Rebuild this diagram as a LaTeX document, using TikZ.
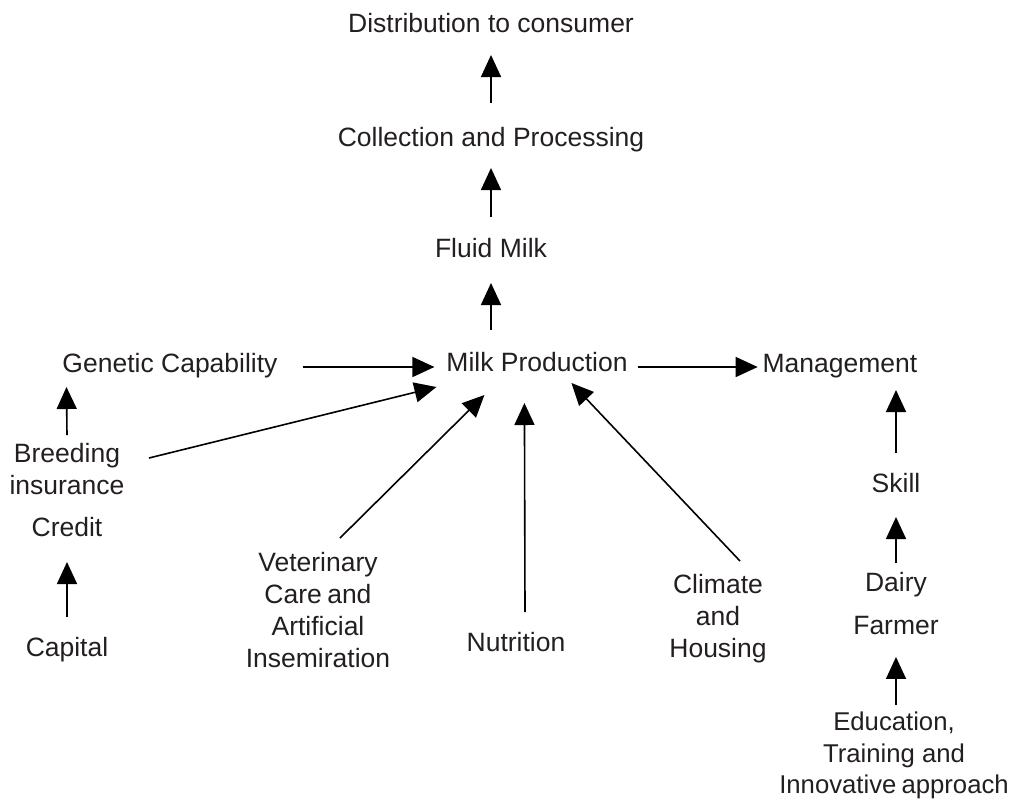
\documentclass[tikz,border=0pt]{standalone}
\usepackage{fontspec}
\setmainfont{Liberation Sans}
\usetikzlibrary{arrows.meta,calc}
\definecolor{ink}{RGB}{35,31,32}
\begin{document}
\begin{tikzpicture}[x=1pt,y=-1pt,
  lbl/.style={inner sep=0pt, outer sep=0pt, text=ink, font=\fontsize{26.5}{32}\selectfont, align=center},
  arr/.style={-{Triangle[length=22pt,width=20pt]}, line width=1.6pt, black}]
\useasboundingbox (0,0) rectangle (1011,801);
% single-line labels (placed by baseline)
\node[lbl, anchor=base] (dist)    at (491,32.5)  {Distribution to consumer};
\node[lbl, anchor=base] (coll)    at (491,146.5) {Collection and Processing};
\node[lbl, anchor=base] (fluid)   at (491,257.5) {Fluid Milk};
\node[lbl, anchor=base] (milk)    at (537,371.5) {Milk Production};
\node[lbl, anchor=base] (gen)     at (170,372.5) {Genetic Capability};
\node[lbl, anchor=base] (mgmt)    at (840,372.5) {Management};
\node[lbl, anchor=base] (credit)  at (67,536.5)  {Credit};
\node[lbl, anchor=base] (capital) at (67,656.5)  {Capital};
\node[lbl, anchor=base] (nutr)    at (516,651.5) {Nutrition};
\node[lbl, anchor=base] (skill)   at (896,492.5) {Skill};
% multi-line labels (placed by top)
\node[lbl, anchor=north] (breed)   at (67,443)  {Breeding\\insurance};
\node[lbl, anchor=north] (vet)     at (318,552) {Veterinary\\Care\hspace{-2pt} and\\Artificial\\Insemiration};
\node[lbl, anchor=north] (climate) at (718,574) {Climate\\and\\Housing};
\node[lbl, anchor=north] (dairy)   at (896,572) {Dairy\\[11pt]Farmer};
\node[lbl, anchor=north, font=\fontsize{25.7}{31.5}\selectfont] (edu) at (894,712) {Education,\\Training and\\Innovative\hspace{-2pt} approach};
% connectors
\draw[arr] ($(coll.base)+(0,-43.5)$) -- ($(dist.base)+(0,22.5)$);
\draw[arr] ($(fluid.base)+(0,-40.5)$) -- ($(coll.base)+(0,21.5)$);
\draw[arr] ($(milk.base)+(-46,-41.5)$) -- ($(fluid.base)+(0,25.5)$);
\draw[arr] ($(gen.base east)+(25,-5.5)$) -- ($(milk.base west)+(-12,-4.5)$);
\draw[arr] ($(milk.base east)+(10,-4.5)$) -- ($(mgmt.base west)+(-5,-5.5)$);
\draw[arr] ($(breed.north)+(0,-8)$) -- ($(gen.base west)+(4,14.5)$);
\draw[arr] ($(breed.north)+(82,15)$) -- ($(milk.base west)+(-10,15.5)$);
\draw[arr] ($(capital.base)+(0,-39.5)$) -- ($(credit.base)+(0,25.5)$);
\draw[arr] ($(vet.north)+(22,-14)$) -- ($(milk.base west)+(38,23.5)$);
\draw[arr] ($(nutr.base)+(9,-39.5)$) -- ($(milk.base west)+(78,31.5)$);
\draw[arr] ($(climate.north)+(22,-13)$) -- ($(milk.base west)+(125,11.5)$);
\draw[arr] ($(skill.base)+(0,-39.5)$) -- ($(mgmt.base)+(56,17.5)$);
\draw[arr] ($(dairy.north)+(0,-9)$) -- ($(skill.base)+(0,24.5)$);
\draw[arr] ($(edu.north)+(2,-7)$) -- ($(dairy.south)+(0,22.5)$);
\end{tikzpicture}
\end{document}
